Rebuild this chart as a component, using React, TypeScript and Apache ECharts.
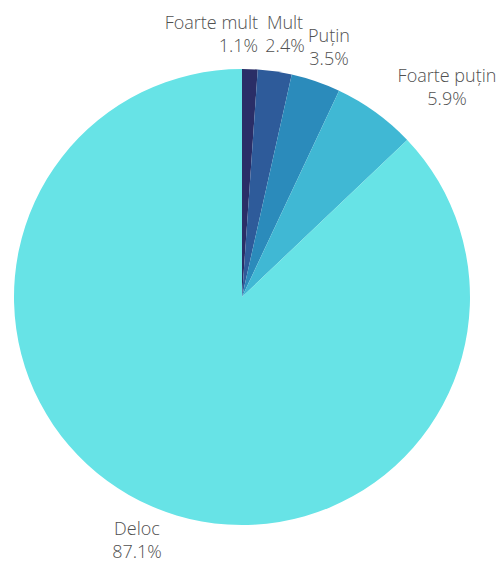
import React, { useEffect, useRef } from "react";
import * as echarts from "echarts";

const categories = ["Foarte mult", "Mult", "Puțin", "Foarte puțin", "Deloc"];
const values = [1.1, 2.4, 3.5, 5.9, 87.1];
const colors = ["#2a2e67", "#2e5b9a", "#2b8bbb", "#40b8d4", "#67e3e6"];

// label anchor placement (x, y, align) per slice
const labelPlacement: [number, number, string][] = [
  [258, 33, "right"],
  [285, 33, "center"],
  [329, 46, "center"],
  [447, 86, "center"],
  [137, 539, "center"],
];

export default function App() {
  const ref = useRef<HTMLDivElement>(null);
  useEffect(() => {
    document.body.style.margin = "0";
    const chart = echarts.init(ref.current!, undefined, { renderer: "svg" });
    chart.setOption({
      animation: false,
      series: [
        {
          type: "pie",
          center: [242, 297],
          radius: [0, 228],
          startAngle: 90,
          clockwise: true,
          avoidLabelOverlap: false,
          data: categories.map((name, i) => ({
            name,
            value: values[i],
            itemStyle: { color: colors[i], borderWidth: 0 },
          })),
          label: {
            show: true,
            position: "outside",
            formatter: (p: any) => `${p.name}\n${p.value.toFixed(1)}%`,
            fontFamily: "Open Sans",
            fontSize: 18,
            fontWeight: 300,
            lineHeight: 23,
            color: "#505050",
          },
          labelLine: { show: false },
          labelLayout: (p: any) => {
            const [x, y, align] = labelPlacement[p.dataIndex];
            return { x, y, align, verticalAlign: "middle" };
          },
        },
      ],
    });
    return () => chart.dispose();
  }, []);
  return <div ref={ref} style={{ width: 502, height: 561 }} />;
}
